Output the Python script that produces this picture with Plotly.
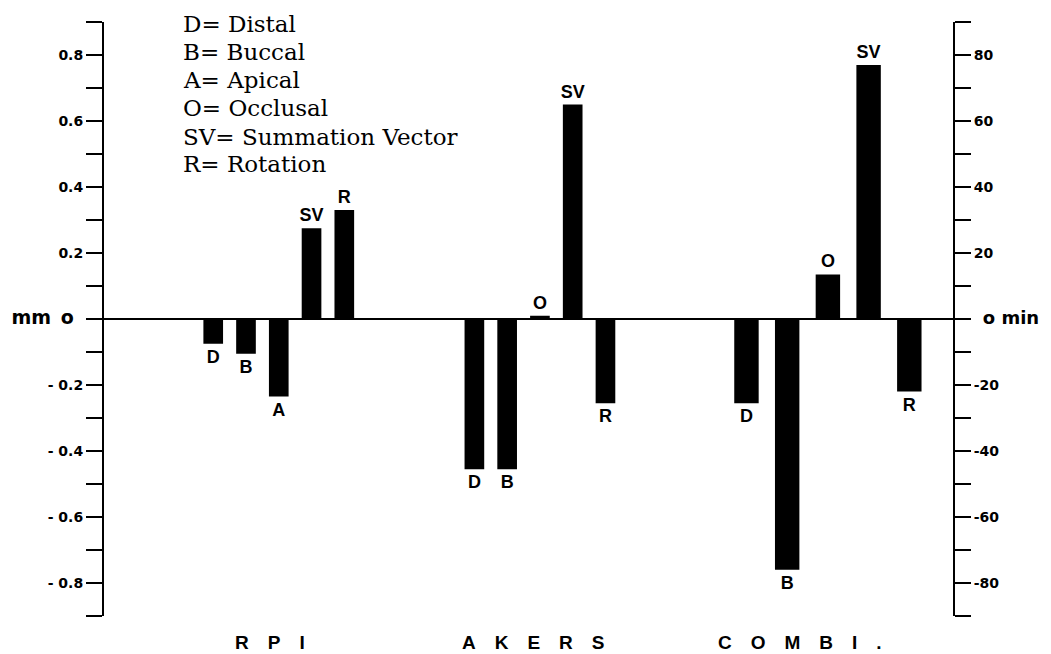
import plotly.graph_objects as go

# ---------------- data ----------------
group_names = ["R\u2003P\u2003I", "A\u2003K\u2003E\u2003R\u2003S", "C\u2003O\u2003M\u2003B\u2003I\u2003."]

rpi_labels = ["D", "B", "A", "SV"]
rpi_mm = [-0.075, -0.105, -0.235, 0.275]
rpi_rot_min = 33

akers_labels = ["D", "B", "O", "SV"]
akers_mm = [-0.455, -0.455, 0.01, 0.65]
akers_rot_min = -25.5

combi_labels = ["D", "B", "O", "SV"]
combi_mm = [-0.255, -0.76, 0.135, 0.77]
combi_rot_min = -22

rot_label = "R"

legend_lines = [
    "D= Distal",
    "B= Buccal",
    "A= Apical",
    "O= Occlusal",
    "SV= Summation Vector",
    "R= Rotation",
]

mm_tickvals = [-0.9, -0.8, -0.7, -0.6, -0.5, -0.4, -0.3, -0.2, -0.1, 0,
               0.1, 0.2, 0.3, 0.4, 0.5, 0.6, 0.7, 0.8, 0.9]
mm_ticktext = ["", "- 0.8", "", "- 0.6", "", "- 0.4", "", "- 0.2", "",
               "<span style='font-size:19px'>mm\u2002o\u2002</span>",
               "", "0.2", "", "0.4", "", "0.6", "", "0.8", ""]
min_tickvals = [-90, -80, -70, -60, -50, -40, -30, -20, -10, 0,
                10, 20, 30, 40, 50, 60, 70, 80, 90]
min_ticktext = ["", "-80", "", "-60", "", "-40", "", "-20", "",
                "<span style='font-size:18px'>\u2002o min</span>",
                "", "20", "", "40", "", "60", "", "80", ""]

# ---------------- figure ----------------
W, H = 1051, 654
ML, MR, MT, MB = 101, 94, 22, 38

bar_font = dict(family="Liberation Sans, Arial, sans-serif", size=18, color="black", weight="bold")

groups = [
    ("x", rpi_labels, rpi_mm, rpi_rot_min),
    ("x2", akers_labels, akers_mm, akers_rot_min),
    ("x3", combi_labels, combi_mm, combi_rot_min),
]

fig = go.Figure()
# full-width base axis (carries the left axis line and the zero line)
fig.add_trace(go.Scatter(x=[], y=[], xaxis="x4", yaxis="y", showlegend=False, hoverinfo="skip"))
for xa, labs, vals, rot in groups:
    fig.add_trace(go.Bar(
        x=labs, y=vals, xaxis=xa, yaxis="y",
        marker=dict(color="black", line=dict(width=0)),
        text=labs, textposition="outside", textfont=bar_font,
        constraintext="none", cliponaxis=False, showlegend=False,
    ))
    fig.add_trace(go.Bar(
        x=[rot_label], y=[rot], xaxis=xa, yaxis="y2",
        marker=dict(color="black", line=dict(width=0)),
        text=[rot_label], textposition="outside", textfont=bar_font,
        constraintext="none", cliponaxis=False, showlegend=False,
    ))

def px_x(p):
    return (p - ML) / (W - ML - MR)

def px_y(p):
    return (H - MB - p) / (H - MT - MB)

tick_font = dict(family="DejaVu Sans, sans-serif", size=14, color="black", weight="bold")

xcommon = dict(type="category", showticklabels=False, showline=False, showgrid=False,
               zeroline=False, ticks="", anchor="y", fixedrange=True)

layout = dict(
    width=W, height=H,
    margin=dict(l=ML, r=MR, t=MT, b=MB, pad=0),
    paper_bgcolor="white", plot_bgcolor="rgba(0,0,0,0)",
    barmode="overlay", bargap=0.4,
    showlegend=False,
    xaxis=dict(domain=[px_x(194.5), px_x(359.5)],
               categoryorder="array", categoryarray=rpi_labels + [rot_label], **xcommon),
    xaxis2=dict(domain=[px_x(457.5), px_x(622.5)],
                categoryorder="array", categoryarray=akers_labels + [rot_label], **xcommon),
    xaxis3=dict(domain=[px_x(727.5), px_x(932.5)],
                categoryorder="array", categoryarray=combi_labels + [rot_label], **xcommon),
    xaxis4=dict(domain=[0, 1], range=[0, 1], visible=False, anchor="y", fixedrange=True,
                showgrid=False, zeroline=False),
    yaxis=dict(range=[-0.9, 0.9], anchor="x4", tickmode="array",
               tickvals=mm_tickvals, ticktext=mm_ticktext,
               ticks="outside", ticklen=16, tickwidth=1.5, tickcolor="black",
               showline=True, linewidth=2, linecolor="black",
               zeroline=True, zerolinecolor="black", zerolinewidth=2,
               showgrid=False, tickfont=tick_font, fixedrange=True),
    yaxis2=dict(range=[-90, 90], overlaying="y", side="right", anchor="free", position=1.0,
                tickmode="array", tickvals=min_tickvals, ticktext=min_ticktext,
                ticks="outside", ticklen=16, tickwidth=1.5, tickcolor="black",
                showline=True, linewidth=2, linecolor="black",
                zeroline=False, showgrid=False, tickfont=tick_font,
                fixedrange=True),
)
fig.update_layout(**layout)

annotations = []
legend_y_px = [24, 52, 80, 108, 137, 164]
for line, ypx in zip(legend_lines, legend_y_px):
    annotations.append(dict(
        text=line, xref="paper", yref="paper", x=px_x(179), y=px_y(ypx),
        xanchor="left", yanchor="middle", showarrow=False,
        font=dict(family="DejaVu Serif, serif", size=23, color="black"),
    ))
for name, cx in zip(group_names, [268, 534, 802]):
    annotations.append(dict(
        text=name, xref="paper", yref="paper", x=px_x(cx), y=px_y(642),
        xanchor="center", yanchor="middle", showarrow=False,
        font=dict(family="Liberation Sans, Arial, sans-serif", size=19, color="black", weight="bold"),
    ))
fig.update_layout(annotations=annotations)

fig.write_html("out.html", config={"displayModeBar": False},
               post_script="document.body.style.margin='0';document.body.style.overflow='hidden';")
